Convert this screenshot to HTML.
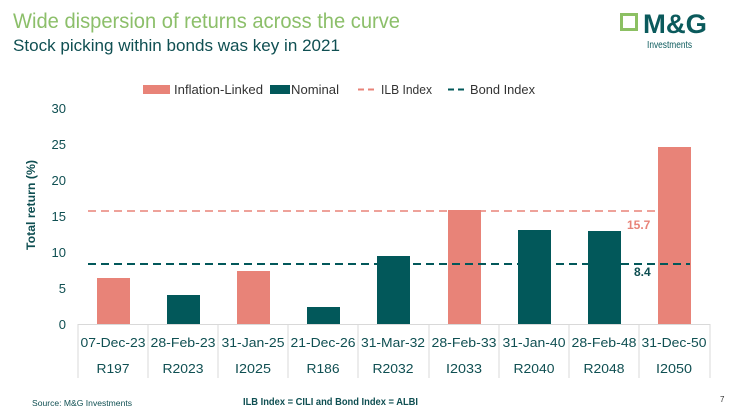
<!DOCTYPE html><html><head><style>
body{margin:0;width:738px;height:410px;background:#fff;font-family:"Liberation Sans",sans-serif;overflow:hidden;position:relative}
</style></head><body>
<svg width="738" height="410" style="position:absolute;left:0;top:0" font-family="Liberation Sans, sans-serif">
<text x="13" y="28" font-size="21" fill="#8cbf6a" textLength="387" lengthAdjust="spacingAndGlyphs">Wide dispersion of returns across the curve</text>
<text x="13" y="51" font-size="17" fill="#0f4f52" textLength="327" lengthAdjust="spacingAndGlyphs">Stock picking within bonds was key in 2021</text>
<rect x="621.5" y="14.5" width="15" height="15" fill="none" stroke="#8cc063" stroke-width="3"/>
<text x="643" y="33" font-size="27" font-weight="bold" fill="#0b5a5c" textLength="64" lengthAdjust="spacingAndGlyphs">M&amp;G</text>
<text x="647" y="48" font-size="10" fill="#0b5a5c" textLength="45" lengthAdjust="spacingAndGlyphs">Investments</text>
<g font-size="13" fill="#333">
<rect x="143" y="85" width="27" height="9" fill="#e88378"/><text x="174" y="94" textLength="89" lengthAdjust="spacingAndGlyphs">Inflation-Linked</text>
<rect x="270" y="85" width="20" height="9" fill="#02585a"/><text x="291" y="94" textLength="48" lengthAdjust="spacingAndGlyphs">Nominal</text>
<line x1="358" y1="89.5" x2="377" y2="89.5" stroke="#e88378" stroke-width="2" stroke-dasharray="6,4"/><text x="381" y="94" textLength="51" lengthAdjust="spacingAndGlyphs">ILB Index</text>
<line x1="448" y1="89.5" x2="467" y2="89.5" stroke="#02585a" stroke-width="2" stroke-dasharray="6,4"/><text x="470" y="94" textLength="65" lengthAdjust="spacingAndGlyphs">Bond Index</text>
</g>
<g font-size="13" fill="#0f4f52" text-anchor="end">
<text x="66" y="113">30</text><text x="66" y="149">25</text><text x="66" y="185">20</text><text x="66" y="221">15</text><text x="66" y="257">10</text><text x="66" y="293">5</text><text x="66" y="329">0</text>
</g>
<text transform="translate(35,205) rotate(-90)" text-anchor="middle" font-size="12" font-weight="bold" fill="#0f4f52" textLength="90" lengthAdjust="spacingAndGlyphs">Total return (%)</text>
<g>
<rect x="97" y="278" width="33" height="46" fill="#e88378"/>
<rect x="167" y="295" width="33" height="29" fill="#02585a"/>
<rect x="237" y="271" width="33" height="53" fill="#e88378"/>
<rect x="307" y="307" width="33" height="17" fill="#02585a"/>
<rect x="377" y="256" width="33" height="68" fill="#02585a"/>
<rect x="448" y="210" width="33" height="114" fill="#e88378"/>
<rect x="518" y="230" width="33" height="94" fill="#02585a"/>
<rect x="588" y="231" width="33" height="93" fill="#02585a"/>
<rect x="658" y="147" width="33" height="177" fill="#e88378"/>
</g>
<line x1="88" y1="211" x2="690" y2="211" stroke="#e88378" stroke-width="1.5" stroke-dasharray="8,5"/>
<line x1="88" y1="264" x2="690" y2="264" stroke="#02585a" stroke-width="2" stroke-dasharray="8,5"/>
<text x="627" y="229" font-size="12" font-weight="bold" fill="#e88378">15.7</text>
<text x="634" y="276" font-size="12" font-weight="bold" fill="#0f4f52">8.4</text>
<line x1="78" y1="324.5" x2="710" y2="324.5" stroke="#d9d9d9"/>
<g stroke="#d9d9d9">
<line x1="78" y1="324" x2="78" y2="378"/><line x1="148" y1="324" x2="148" y2="378"/><line x1="218" y1="324" x2="218" y2="378"/><line x1="288" y1="324" x2="288" y2="378"/><line x1="358" y1="324" x2="358" y2="378"/><line x1="429" y1="324" x2="429" y2="378"/><line x1="499" y1="324" x2="499" y2="378"/><line x1="569" y1="324" x2="569" y2="378"/><line x1="639" y1="324" x2="639" y2="378"/><line x1="710" y1="324" x2="710" y2="378"/>
</g>
<g font-size="13" fill="#0f4f52" text-anchor="middle">
<text x="113" y="347" textLength="65" lengthAdjust="spacingAndGlyphs">07-Dec-23</text><text x="183" y="347" textLength="65" lengthAdjust="spacingAndGlyphs">28-Feb-23</text><text x="253" y="347" textLength="63" lengthAdjust="spacingAndGlyphs">31-Jan-25</text><text x="323" y="347" textLength="65" lengthAdjust="spacingAndGlyphs">21-Dec-26</text><text x="393" y="347" textLength="64" lengthAdjust="spacingAndGlyphs">31-Mar-32</text><text x="464" y="347" textLength="65" lengthAdjust="spacingAndGlyphs">28-Feb-33</text><text x="534" y="347" textLength="63" lengthAdjust="spacingAndGlyphs">31-Jan-40</text><text x="604" y="347" textLength="65" lengthAdjust="spacingAndGlyphs">28-Feb-48</text><text x="674" y="347" textLength="65" lengthAdjust="spacingAndGlyphs">31-Dec-50</text>
<text x="113" y="373" textLength="33" lengthAdjust="spacingAndGlyphs">R197</text><text x="183" y="373" textLength="41" lengthAdjust="spacingAndGlyphs">R2023</text><text x="253" y="373" textLength="36" lengthAdjust="spacingAndGlyphs">I2025</text><text x="323" y="373" textLength="33" lengthAdjust="spacingAndGlyphs">R186</text><text x="393" y="373" textLength="41" lengthAdjust="spacingAndGlyphs">R2032</text><text x="464" y="373" textLength="36" lengthAdjust="spacingAndGlyphs">I2033</text><text x="534" y="373" textLength="41" lengthAdjust="spacingAndGlyphs">R2040</text><text x="604" y="373" textLength="41" lengthAdjust="spacingAndGlyphs">R2048</text><text x="674" y="373" textLength="36" lengthAdjust="spacingAndGlyphs">I2050</text>
</g>
<text x="32" y="406" font-size="8" fill="#0f4f52" textLength="100" lengthAdjust="spacingAndGlyphs">Source: M&amp;G Investments</text>
<text x="243" y="405" font-size="10" font-weight="bold" fill="#0f4f52" textLength="175" lengthAdjust="spacingAndGlyphs">ILB Index = CILI  and Bond Index = ALBI</text>
<text x="720" y="402" font-size="8" fill="#333">7</text>
</svg>
</body></html>
